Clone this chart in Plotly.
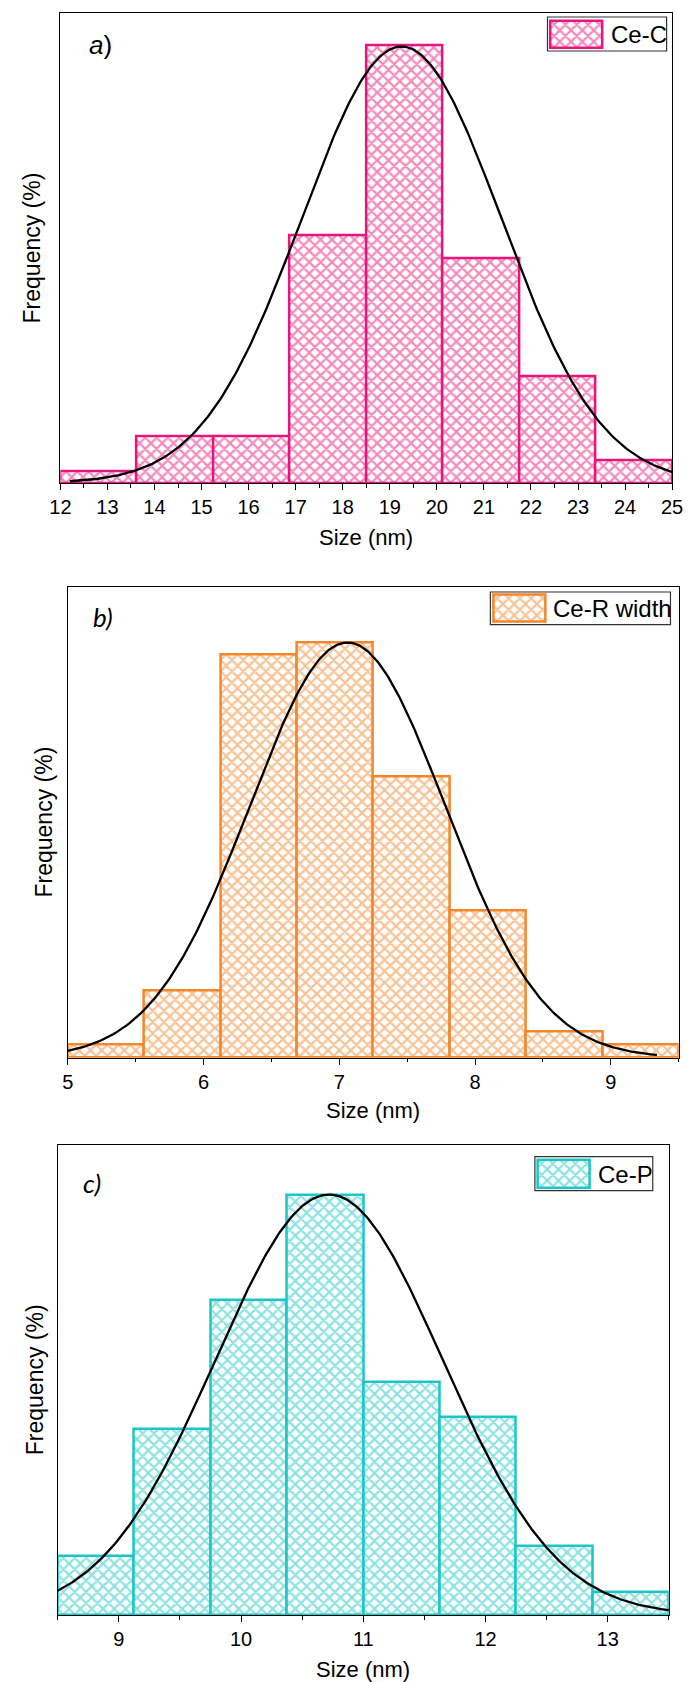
import numpy as np
import plotly.graph_objects as go

W, H = 696, 1682

# ---------------- data ----------------
# Ce-C size distribution
ce_c_edges = [12.0, 13.625, 15.25, 16.875, 18.5, 20.125, 21.75, 23.375, 25.0]
ce_c_freq = [1.0, 4.1, 4.1, 21.6, 38.2, 19.6, 9.3, 2.0]
ce_c_fit_mean, ce_c_fit_sigma, ce_c_fit_peak = 19.25, 2.12, 38.1
ce_c_fit_span = [12.2, 25.0]

# Ce-R width distribution
ce_r_edges = [5.0, 5.5625, 6.125, 6.6875, 7.25, 7.8125, 8.375, 8.9375, 9.5]
ce_r_freq = [1.0, 4.9, 29.5, 30.4, 20.6, 10.8, 1.9, 1.0]
ce_r_fit_mean, ce_r_fit_sigma, ce_r_fit_peak = 7.06, 0.72, 30.4
ce_r_fit_span = [5.0, 9.34]

# Ce-P size distribution
ce_p_edges = [8.5, 9.125, 9.75, 10.375, 11.0, 11.625, 12.25, 12.875, 13.5]
ce_p_freq = [3.9, 12.4, 21.0, 28.0, 15.5, 13.2, 4.6, 1.5]
ce_p_fit_mean, ce_p_fit_sigma, ce_p_fit_peak = 10.72, 0.93, 28.0
ce_p_fit_span = [8.5, 13.5]

panel_letters = ["a", "b", "c"]
legend_names = ["Ce-C", "Ce-R width", "Ce-P"]
x_title = "Size (nm)"
y_title = "Frequency (%)"

# ---------------- styling ----------------
colors = ["#E8157D", "#F2872C", "#1CC6C6"]
TEXT_FONT = "Liberation Sans, Arial, sans-serif"


def px_x(x):
    return x / W


def px_y(y):
    return 1 - y / H


# plot-area boxes in pixels: left, right, top, bottom
boxes = [
    (51.0, 682.7, 13.3, 483.0),
    (58.7, 689.5, 586.5, 1057.7),
    (48.3, 679.3, 1145.0, 1615.0),
]
x_ranges = [[12, 25], [5, 9.5], [8.5, 13.5]]
y_tops = [41.0, 34.5, 31.3]
tick_values = [list(range(12, 26)), [5, 6, 7, 8, 9], [9, 10, 11, 12, 13]]
# legend: box (l, r, t, b), swatch (l, r, t, b), text start x, text centre y
legends = [
    ((554, 677, 17, 51), (557, 611, 21, 48), 618, 34),
    ((495, 681, 592, 624.7), (498.3, 552.3, 594.7, 621.7), 558, 608.3),
    ((541, 662.7, 1156.7, 1190.7), (544, 597.7, 1160, 1187.7), 604.5, 1174),
]
letter_pos = [(92, 45), (95, 617), (84, 1183)]
letter_fonts = [TEXT_FONT, "Lato, sans-serif", "Lato, sans-serif"]
ytitle_x = [22, 34.5, 25]
xtitle_y = [537, 1110, 1669]

series = [
    (ce_c_edges, ce_c_freq, ce_c_fit_mean, ce_c_fit_sigma, ce_c_fit_peak, ce_c_fit_span),
    (ce_r_edges, ce_r_freq, ce_r_fit_mean, ce_r_fit_sigma, ce_r_fit_peak, ce_r_fit_span),
    (ce_p_edges, ce_p_freq, ce_p_fit_mean, ce_p_fit_sigma, ce_p_fit_peak, ce_p_fit_span),
]

fig = go.Figure()
layout = dict(
    width=W,
    height=H,
    margin=dict(l=0, r=0, t=0, b=0),
    paper_bgcolor="white",
    plot_bgcolor="rgba(0,0,0,0)",
    showlegend=False,
    bargap=0,
    shapes=[],
    annotations=[],
    font=dict(family=TEXT_FONT, color="black"),
)


def hatch(color):
    return dict(shape="x", fgcolor=color, bgcolor="white", size=8, solidity=0.48)


for i, (edges, freq, mu, sigma, peak, span) in enumerate(series):
    n = i + 1
    xa = "x" if n == 1 else f"x{n}"
    ya = "y" if n == 1 else f"y{n}"
    color = colors[i]
    left, right, top, bottom = boxes[i]

    edges_arr = np.array(edges)
    centers = (edges_arr[:-1] + edges_arr[1:]) / 2
    widths = np.diff(edges_arr)

    fig.add_trace(go.Bar(
        x=centers, y=freq, width=widths, xaxis=xa, yaxis=ya,
        marker=dict(color="white", pattern=hatch(color),
                    line=dict(color=color, width=2.5)),
        name=legend_names[i], hoverinfo="skip",
    ))

    # normal-distribution fit drawn over the histogram
    xs = np.linspace(span[0], span[1], 300)
    ys = peak * np.exp(-((xs - mu) ** 2) / (2 * sigma ** 2))
    fig.add_trace(go.Scatter(
        x=xs, y=ys, xaxis=xa, yaxis=ya, mode="lines",
        line=dict(color="black", width=2.3), hoverinfo="skip",
    ))

    layout["xaxis" if n == 1 else f"xaxis{n}"] = dict(
        domain=[px_x(left), px_x(right)], anchor=ya, range=x_ranges[i],
        showline=True, linecolor="black", linewidth=1.3, mirror=True,
        showgrid=False, zeroline=False,
        ticks="outside", ticklen=6, tickwidth=1.2, tickcolor="black",
        tickvals=tick_values[i], tickfont=dict(size=20, family=TEXT_FONT),
        minor=dict(ticks="outside", ticklen=3.5, tickwidth=1.2, tickcolor="black",
                   dtick=0.5, tick0=0.5, showgrid=False),
    )
    layout["yaxis" if n == 1 else f"yaxis{n}"] = dict(
        domain=[px_y(bottom), px_y(top)], anchor=xa, range=[0, y_tops[i]],
        showline=True, linecolor="black", linewidth=1.3, mirror=True,
        showgrid=False, zeroline=False, ticks="", showticklabels=False,
    )

    # axis titles
    layout["annotations"].append(dict(
        text=x_title, xref="paper", yref="paper",
        x=px_x((left + right) / 2), y=px_y(xtitle_y[i]),
        xanchor="center", yanchor="middle", showarrow=False,
        font=dict(size=22, family=TEXT_FONT),
    ))
    layout["annotations"].append(dict(
        text=y_title, xref="paper", yref="paper",
        x=px_x(ytitle_x[i]), y=px_y((top + bottom) / 2), textangle=-90,
        xanchor="center", yanchor="middle", showarrow=False,
        font=dict(size=23, family=TEXT_FONT),
    ))

    # panel letter
    lx, ly = letter_pos[i]
    letter_text = f"<i>{panel_letters[i]}</i>)" if i == 0 else f"<i>{panel_letters[i]})</i>"
    layout["annotations"].append(dict(
        text=letter_text, xref="paper", yref="paper",
        x=px_x(lx), y=px_y(ly), xanchor="center", yanchor="middle",
        showarrow=False, font=dict(size=26, family=letter_fonts[i]),
    ))

    # legend: framed box, hatched swatch and label
    (bl, br, bt, bb), (sl, sr, st, sb), tx, ty = legends[i]
    layout["shapes"].append(dict(
        type="rect", xref="paper", yref="paper", layer="below",
        x0=px_x(bl), x1=px_x(br), y0=px_y(bb), y1=px_y(bt),
        line=dict(color="#333333", width=1.2), fillcolor="white",
    ))
    pad = 2.0
    m = n + 3
    sw_w, sw_h = sr - sl, sb - st
    layout[f"xaxis{m}"] = dict(
        domain=[px_x(sl - pad), px_x(sr + pad)], anchor=f"y{m}",
        range=[-0.5 - pad / sw_w, 0.5 + pad / sw_w], visible=False, fixedrange=True,
    )
    layout[f"yaxis{m}"] = dict(
        domain=[px_y(sb + pad), px_y(st - pad)], anchor=f"x{m}",
        range=[-pad / sw_h, 1 + pad / sw_h], visible=False, fixedrange=True,
    )
    fig.add_trace(go.Bar(
        x=[0], y=[1], width=[1], xaxis=f"x{m}", yaxis=f"y{m}",
        marker=dict(color="white", pattern=hatch(color),
                    line=dict(color=color, width=2.5)),
        hoverinfo="skip",
    ))
    layout["annotations"].append(dict(
        text=legend_names[i], xref="paper", yref="paper",
        x=px_x(tx), y=px_y(ty), xanchor="left", yanchor="middle",
        showarrow=False, font=dict(size=24, family=TEXT_FONT),
    ))

fig.update_layout(**layout)
fig.write_html("out.html")
